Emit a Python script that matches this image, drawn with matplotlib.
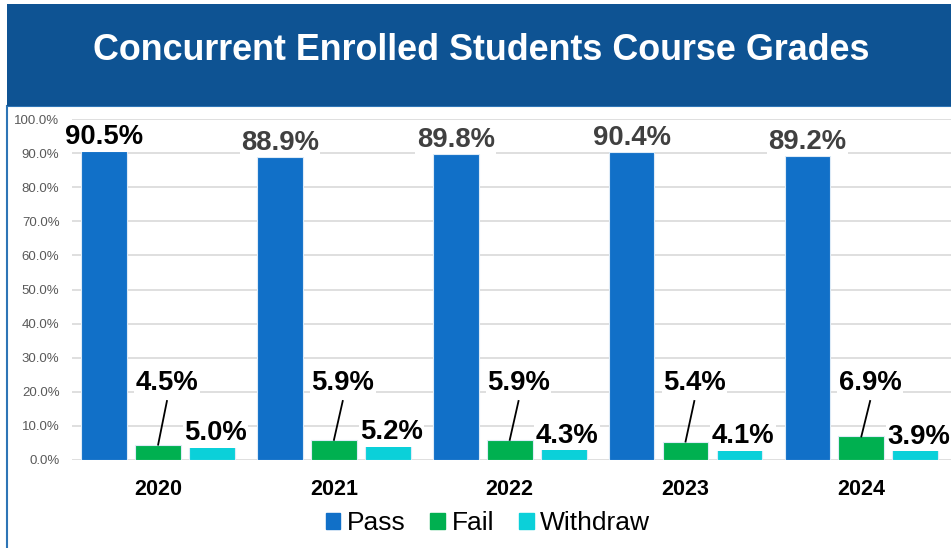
import matplotlib
matplotlib.use("Agg")
import matplotlib.pyplot as plt
import numpy as np
from matplotlib.patches import Rectangle, Patch

plt.rcParams['font.family'] = ['Liberation Sans', 'DejaVu Sans']

# data
years = ['2020', '2021', '2022', '2023', '2024']
pass_pct = [90.5, 88.9, 89.8, 90.4, 89.2]
fail_pct = [4.5, 5.9, 5.9, 5.4, 6.9]
withdraw_pct = [5.0, 5.2, 4.3, 4.1, 3.9]
yticks = [0, 10, 20, 30, 40, 50, 60, 70, 80, 90, 100]

c_pass = '#1170C8'
c_fail = '#00B050'
c_wd = '#0BD0D9'

fig = plt.figure(figsize=(9.51, 5.48), dpi=100)

# title banner + frame (frame runs off the right/bottom edge)
fig.patches.append(Rectangle((7/951, -0.01), 1.01 - 7/951, 1.01 - 106/548,
                             transform=fig.transFigure, facecolor='white',
                             edgecolor='#2E75B6', lw=1.5, zorder=0))
fig.patches.append(Rectangle((7/951, 1 - 106/548), 1 - 7/951, 102/548,
                             transform=fig.transFigure, facecolor='#0E5393',
                             edgecolor='none', zorder=1))
fig.text(0.506, 1 - 51/548, 'Concurrent Enrolled Students Course Grades',
         color='white', fontsize=25.8, fontweight='bold', ha='center', va='center')

ax = fig.add_axes([72/951, 88/548, 1 - 72/951, 341/548])
ax.set_zorder(3)
x = np.arange(len(years))
w = 0.26
step = 0.307

ax.bar(x - step, pass_pct, w, color=c_pass, edgecolor='#DDEBF7', lw=0.8, zorder=2)
ax.bar(x, fail_pct, w, color=c_fail, edgecolor='#DDEBF7', lw=0.8, zorder=2)
ax.bar(x + step, withdraw_pct, w, color=c_wd, edgecolor='#DDEBF7', lw=0.8, zorder=2)

box = dict(facecolor='white', edgecolor='none', pad=1)
for i in range(len(years)):
    col = 'black' if i == 0 else '#404040'
    ax.annotate(f'{pass_pct[i]:.1f}%', (x[i] - step, pass_pct[i]), xytext=(0, 5),
                textcoords='offset points', ha='center', va='baseline',
                fontsize=19.8, fontweight='bold', color=col, bbox=box, zorder=4)
    # fail label with leader line
    ax.plot([x[i], x[i] + 0.05], [fail_pct[i], 17.3], color='black', lw=1.3, zorder=3)
    ax.text(x[i] + 0.05, 22.6, f'{fail_pct[i]:.1f}%', ha='center', va='center',
            fontsize=19.8, fontweight='bold', color='black', bbox=box, zorder=4)
    ax.annotate(f'{withdraw_pct[i]:.1f}%', (x[i] + step + 0.02, withdraw_pct[i]), xytext=(0, 2),
                textcoords='offset points', ha='center', va='baseline',
                fontsize=19.8, fontweight='bold', color='black', bbox=box, zorder=4)

ax.set_xlim(-0.49, 4.51)
ax.set_ylim(0, 100)
ax.set_yticks(yticks)
ax.set_yticklabels([f'{v:.1f}%' for v in yticks], fontsize=9.5, color='#595959')
ax.set_xticks(x)
ax.set_xticklabels(years, fontsize=15.5, fontweight='bold')
ax.tick_params(axis='both', length=0)
ax.tick_params(axis='x', pad=14)
ax.tick_params(axis='y', pad=9)
ax.grid(axis='y', color='#D9D9D9', lw=1.2, zorder=0)
ax.set_axisbelow(True)
for s in ax.spines.values():
    s.set_visible(False)
ax.patch.set_alpha(0)

handles = [Patch(color=c_pass, label='Pass'), Patch(color=c_fail, label='Fail'),
           Patch(color=c_wd, label='Withdraw')]
leg = fig.legend(handles=handles, loc='center', bbox_to_anchor=(0.513, 1 - 523/548), ncol=3,
                 frameon=False, fontsize=19, handlelength=0.55, handleheight=0.55,
                 handletextpad=0.25, columnspacing=0.95)
leg.set_zorder(4)

fig.savefig('out.png', dpi=100)
